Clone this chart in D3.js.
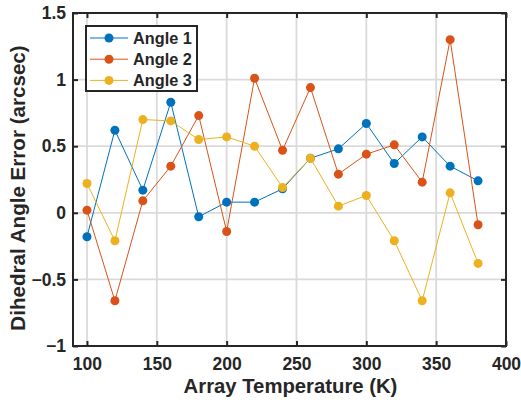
<!DOCTYPE html>
<html>
<head>
<meta charset="utf-8">
<script src="https://cdn.jsdelivr.net/npm/d3@7"></script>
<style>
  html, body { margin: 0; padding: 0; background: #fff; }
  svg { display: block; font-family: "Liberation Sans", Arial, sans-serif; }
</style>
</head>
<body>
<svg id="chart" width="521" height="400"></svg>
<script>
// Array temperature (K)
const temps = [100, 120, 140, 160, 180, 200, 220, 240, 260, 280, 300, 320, 340, 360, 380];
// Dihedral angle error (arcsec) per angle
const angle1 = [-0.18, 0.62, 0.17, 0.83, -0.03, 0.08, 0.08, 0.18, 0.41, 0.48, 0.67, 0.37, 0.57, 0.35, 0.24];
const angle2 = [0.02, -0.66, 0.09, 0.35, 0.73, -0.14, 1.01, 0.47, 0.94, 0.29, 0.44, 0.51, 0.23, 1.30, -0.09];
const angle3 = [0.22, -0.21, 0.70, 0.69, 0.55, 0.57, 0.50, 0.19, 0.41, 0.05, 0.13, -0.21, -0.66, 0.15, -0.38];
const seriesNames = ["Angle 1", "Angle 2", "Angle 3"];
const seriesColors = ["#0072BD", "#D95319", "#EDB120"];
const xTicks = [100, 150, 200, 250, 300, 350, 400];
const yTicks = [-1, -0.5, 0, 0.5, 1, 1.5];

const series = [angle1, angle2, angle3].map((vals, i) => ({
  name: seriesNames[i], color: seriesColors[i],
  points: vals.map((v, j) => ({ x: temps[j], y: v }))
}));

const svg = d3.select("#chart");
const m = { left: 73, top: 13, right: 506, bottom: 346 };
const x = d3.scaleLinear().domain([90, 400]).range([m.left, m.right]);
const y = d3.scaleLinear().domain([-1, 1.5]).range([m.bottom, m.top]);
const ink = "#262626";

// grid
const grid = svg.append("g");
grid.selectAll(".gx").data(xTicks).join("line")
  .attr("x1", d => x(d)).attr("x2", d => x(d))
  .attr("y1", m.top).attr("y2", m.bottom)
  .attr("stroke", "#dadada").attr("stroke-width", 1.8);
grid.selectAll(".gy").data(yTicks).join("line")
  .attr("x1", m.left).attr("x2", m.right)
  .attr("y1", d => y(d)).attr("y2", d => y(d))
  .attr("stroke", "#dadada").attr("stroke-width", 1.8);

// series lines and markers
const line = d3.line().x(d => x(d.x)).y(d => y(d.y));
series.forEach(s => {
  svg.append("path").datum(s.points)
    .attr("d", line).attr("fill", "none")
    .attr("stroke", s.color).attr("stroke-width", 1);
  svg.append("g").selectAll("circle").data(s.points).join("circle")
    .attr("cx", d => x(d.x)).attr("cy", d => y(d.y)).attr("r", 4.5)
    .attr("fill", s.color);
});

// axes
const xAxis = svg.append("g").attr("transform", `translate(0,${m.bottom})`)
  .call(d3.axisBottom(x).tickValues(xTicks).tickSize(-5).tickPadding(12).tickFormat(d3.format("d")));
const xAxisTop = svg.append("g").attr("transform", `translate(0,${m.top})`)
  .call(d3.axisTop(x).tickValues(xTicks).tickSize(-5).tickFormat(""));
const yAxis = svg.append("g").attr("transform", `translate(${m.left},0)`)
  .call(d3.axisLeft(y).tickValues(yTicks).tickSize(-5).tickPadding(7).tickFormat(d => d3.format("")(d)));
const yAxisRight = svg.append("g").attr("transform", `translate(${m.right},0)`)
  .call(d3.axisRight(y).tickValues(yTicks).tickSize(-5).tickFormat(""));

[xAxis, xAxisTop, yAxis, yAxisRight].forEach(g => {
  g.select(".domain").remove();
  g.selectAll(".tick line").attr("stroke", ink).attr("stroke-width", 2);
  g.selectAll(".tick text").attr("fill", ink)
    .style("font-size", "17.5px").style("font-weight", "bold");
});
xAxis.selectAll(".tick text").attr("dy", "0.71em");

// frame
svg.append("rect")
  .attr("x", m.left).attr("y", m.top)
  .attr("width", m.right - m.left).attr("height", m.bottom - m.top)
  .attr("fill", "none").attr("stroke", ink).attr("stroke-width", 2);

// axis titles
svg.append("text")
  .attr("x", (m.left + m.right) / 2 + 1).attr("y", 393)
  .attr("text-anchor", "middle").attr("fill", ink)
  .style("font-size", "20.3px").style("font-weight", "bold")
  .text("Array Temperature (K)");
svg.append("text")
  .attr("transform", `translate(25,188) rotate(-90)`)
  .attr("text-anchor", "middle").attr("fill", ink)
  .style("font-size", "20.6px").style("font-weight", "bold")
  .text("Dihedral Angle Error (arcsec)");

// legend
const lg = svg.append("g");
lg.append("rect").attr("x", 86).attr("y", 26).attr("width", 111).attr("height", 65)
  .attr("fill", "#fff").attr("stroke", ink).attr("stroke-width", 2);
series.forEach((s, i) => {
  const cy = 38 + i * 21.2;
  lg.append("line").attr("x1", 90).attr("x2", 128).attr("y1", cy).attr("y2", cy)
    .attr("stroke", s.color).attr("stroke-width", 1);
  lg.append("circle").attr("cx", 109).attr("cy", cy).attr("r", 4.5).attr("fill", s.color);
  lg.append("text").attr("x", 133).attr("y", cy).attr("dy", "0.36em")
    .attr("fill", ink).style("font-size", "16.3px").style("font-weight", "bold")
    .text(s.name);
});
</script>
</body>
</html>
